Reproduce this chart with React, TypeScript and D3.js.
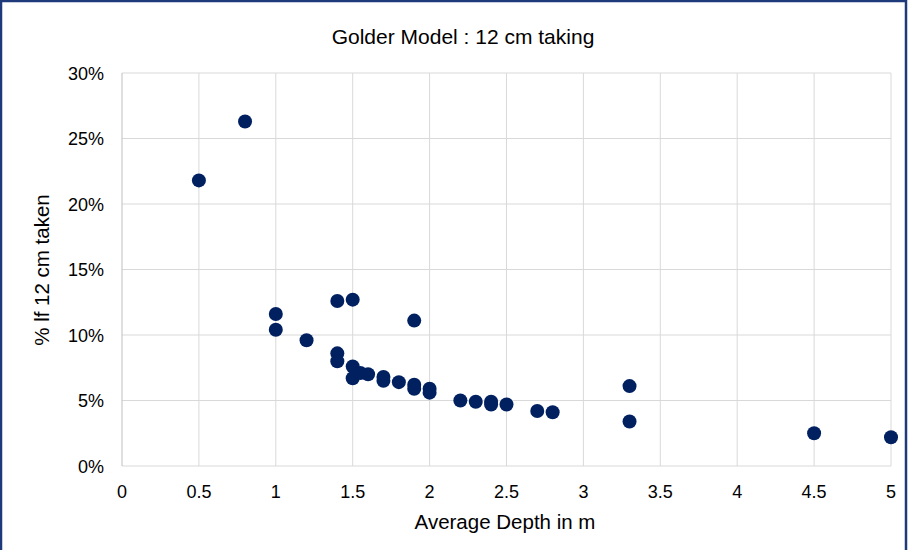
import React from "react";
import * as d3 from "d3";

const xs = [0.5,0.8,1.0,1.0,1.2,1.4,1.5,1.9,1.4,1.4,1.5,1.5,1.55,1.6,1.7,1.7,1.8,1.9,1.9,2.0,2.0,2.2,2.3,2.4,2.4,2.5,2.7,2.8,3.3,3.3,4.5,5.0];
const ys = [21.8,26.3,11.6,10.4,9.6,12.6,12.7,11.1,8.6,8.0,7.6,6.7,7.1,7.0,6.8,6.5,6.4,6.2,5.9,5.9,5.6,5.0,4.9,4.9,4.7,4.7,4.2,4.1,6.1,3.4,2.5,2.2];
const xTicks = [0,0.5,1,1.5,2,2.5,3,3.5,4,4.5,5];
const yTicks = [0,5,10,15,20,25,30];

export default function App() {
  const x = d3.scaleLinear().domain([0,5]).range([122,891]);
  const y = d3.scaleLinear().domain([0,30]).range([466,73]);
  const f = "Arial, 'Liberation Sans', sans-serif";
  return (
    <svg width={908} height={550} style={{position:"absolute",left:0,top:0}}>
      <rect x={0} y={0} width={908} height={550} fill="#fff"/>
      <path d="M1,550 V1 H906 V550" fill="none" stroke="#1f3a7a" strokeWidth={2.5}/>
      <text x={463} y={44} textAnchor="middle" fontFamily={f} fontSize={21} fill="#000">Golder Model : 12 cm taking</text>
      {xTicks.slice(1).map(t=> <line key={"gx"+t} x1={x(t)} x2={x(t)} y1={73} y2={466} stroke="#d9d9d9"/>)}
      {yTicks.map(t=> <text key={"ty"+t} x={104} y={y(t)+6.5} textAnchor="end" fontFamily={f} fontSize={18}>{t+"%"}</text>)}
      {yTicks.map(t=> <line key={"gy"+t} x1={122} x2={891} y1={y(t)} y2={y(t)} stroke="#d9d9d9"/>)}
      <line x1={122} x2={122} y1={73} y2={466} stroke="#bfbfbf"/>
      {xTicks.map(t=> <text key={"tx"+t} x={x(t)} y={498} textAnchor="middle" fontFamily={f} fontSize={18}>{String(t)}</text>)}
      <text x={505} y={529} textAnchor="middle" fontFamily={f} fontSize={20.5}>Average Depth in m</text>
      <text transform="translate(49,270) rotate(-90)" textAnchor="middle" fontFamily={f} fontSize={20.5}>% lf 12 cm taken</text>
      {xs.map((v,i)=> <circle key={i} cx={x(v)} cy={y(ys[i])} r={7} fill="#002060"/>)}
    </svg>
  );
}
